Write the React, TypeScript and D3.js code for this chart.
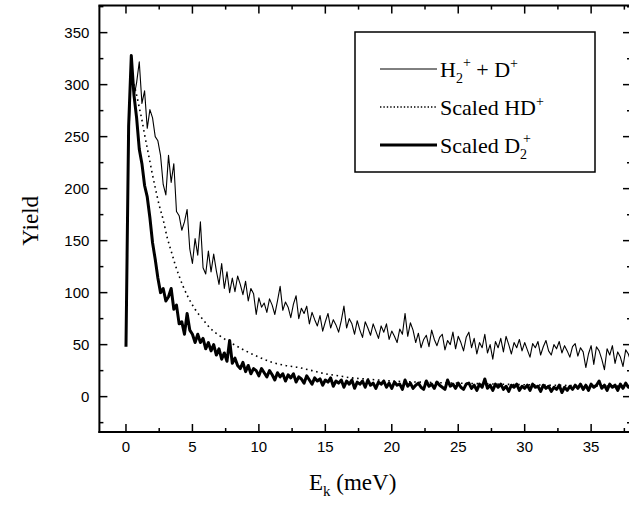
import React from "react";
import * as d3 from "d3";

// ---- data ----
const E_STEP = 0.2; // energy sampling step (meV) of the measured spectra
const h2dYield = [
  55, 240, 318, 288, 302, 322, 282, 294, 258, 276,
  268, 250, 246, 232, 204, 194, 232, 206, 224, 178,
  174, 160, 168, 180, 142, 128, 152, 136, 168, 124,
  118, 140, 120, 137, 121, 108, 128, 104, 120, 100,
  114, 101, 116, 108, 98, 111, 92, 104, 99, 79,
  95, 86, 90, 81, 94, 88, 79, 92, 106, 83,
  91, 86, 76, 89, 97, 75, 85, 80, 87, 70,
  81, 74, 68, 78, 63, 72, 80, 66, 74, 69,
  62, 73, 87, 66, 75, 70, 60, 73, 64, 57,
  72, 66, 59, 70, 63, 56, 68, 62, 70, 55,
  63, 58, 52, 65, 60, 80, 58, 71, 64, 52,
  61, 47, 55, 59, 48, 64, 55, 49, 57, 60,
  45, 54, 50, 62, 46, 58, 52, 44, 57, 62,
  47, 56, 41, 52, 47, 60, 42, 50, 36, 53,
  47, 56, 43, 58, 50, 41, 52, 47, 55, 44,
  52, 45, 38, 51, 47, 53, 40, 48, 54, 44,
  40, 50, 46, 53, 42, 49, 44, 38, 48, 51,
  39, 47, 43, 28, 41, 49, 31, 48, 44, 36,
  26, 46, 40, 49, 32, 43, 38, 29, 45, 41,
  33,
];
const d2Yield = [
  48, 260, 328, 290, 268, 238, 224, 203, 192, 172,
  148, 132, 114, 100, 104, 92, 96, 104, 84, 88,
  70, 72, 60, 80, 64, 60, 52, 60, 52, 56,
  46, 52, 44, 50, 40, 46, 36, 42, 34, 54,
  32, 37, 30, 27, 33, 24, 30, 22, 27, 25,
  20, 27, 23, 19, 25, 21, 16, 23, 19, 22,
  15, 21, 18, 22, 14, 19, 17, 13, 20, 16,
  12, 18, 15, 17, 11, 16, 14, 18, 10, 15,
  13, 16, 9, 15, 12, 16, 8, 14, 12, 15,
  9, 16, 11, 13, 8, 14, 12, 15, 9, 13,
  8, 14, 11, 12, 7, 16, 10, 13, 8, 11,
  13, 9, 7, 15, 10, 12, 8, 14, 11, 9,
  7, 16, 10, 12, 8, 13, 9, 7, 12, 13,
  8, 11, 6, 12, 9, 17, 8, 11, 6, 12,
  9, 12, 7, 10, 5, 11, 9, 12, 6, 10,
  8, 11, 6, 12, 9, 10, 5, 11, 8, 10,
  5, 9, 7, 11, 4, 9, 6, 10, 7, 11,
  8, 12, 7, 11, 6, 12, 9, 11, 15, 8,
  11, 6, 12, 9, 11, 6, 12, 8, 13, 9,
  11,
];
const hdEnergy = [0.45, 0.6, 0.8, 1.0, 1.2, 1.4, 1.6, 1.8, 2.0, 2.2, 2.5, 2.8, 3.1, 3.4, 3.7, 4.0, 4.3, 4.7, 5.2, 5.8, 6.4, 7.0, 8.0, 9.0, 10, 11, 12, 13, 14, 15, 16, 17, 18, 20, 22, 25, 28, 32, 38];
const hdYield = [305, 300, 290, 278, 266, 252, 239, 226, 213, 201, 184, 170, 153, 140, 127, 116, 106, 95, 84, 74, 65, 59, 51, 44, 38, 33, 30, 28, 25, 22, 20, 18, 17, 15, 14, 13, 12, 11, 10];

const xTicks = [0, 5, 10, 15, 20, 25, 30, 35];
const yTicks = [0, 50, 100, 150, 200, 250, 300, 350];
const legendLabels = ["H2+ + D+", "Scaled HD+", "Scaled D2+"];

const W = 629;
const H = 506;
const serif = "'Liberation Serif', 'DejaVu Serif', serif";
const sans = "'Liberation Sans', Arial, sans-serif";

export default function App() {
  const x = d3.scaleLinear().domain([-2, 38]).range([99.4, 631]);
  const y = d3.scaleLinear().domain([-34, 376]).range([432, 5.6]);
  const [x0, x1] = x.range();
  const [yb, yt] = y.range();

  const grid = (vals: number[]) => vals.map((v, i) => [i * E_STEP, v] as [number, number]);
  const line = d3
    .line<[number, number]>()
    .x((d) => x(d[0]))
    .y((d) => y(d[1]));
  const smooth = d3
    .line<[number, number]>()
    .x((d) => x(d[0]))
    .y((d) => y(d[1]))
    .curve(d3.curveMonotoneX);

  const hdPts = hdEnergy.map((e, i) => [e, hdYield[i]] as [number, number]);

  const xMinor = d3.range(-2.5, 38.1, 5).filter((v) => v > -2 && v < 38);
  const yMinor = d3.range(-25, 376, 50).filter((v) => v > -34 && v < 376);

  const majLen = 8;
  const minLen = 4;

  return (
    <svg
      width={W}
      height={H}
      style={{ position: "absolute", left: 0, top: 0, background: "#fff" }}
    >
      <defs>
        <clipPath id="plot">
          <rect x={x0} y={yt} width={x1 - x0} height={yb - yt} />
        </clipPath>
      </defs>
      <rect x={0} y={0} width={W} height={H} fill="#fff" />

      <g clipPath="url(#plot)" fill="none" stroke="#000" strokeLinejoin="round">
        <path d={line(grid(h2dYield)) || ""} strokeWidth={1.1} />
        <path d={smooth(hdPts) || ""} strokeWidth={1.6} strokeDasharray="1.6 3.6" />
        <path d={line(grid(d2Yield)) || ""} strokeWidth={3} />
      </g>

      {/* frame */}
      <g stroke="#000" fill="none">
        <line x1={x0} x2={x0} y1={yt} y2={yb + 1} strokeWidth={2} />
        <line x1={x0 - 1} x2={x1} y1={yb} y2={yb} strokeWidth={2} />
        <line x1={x0 - 1} x2={x1} y1={yt} y2={yt} strokeWidth={2} />
        <line x1={x1} x2={x1} y1={yt} y2={yb} strokeWidth={2} />
        {xTicks.map((t) => (
          <g key={"xt" + t} strokeWidth={1.5}>
            <line x1={x(t)} x2={x(t)} y1={yb} y2={yb - majLen} />
            <line x1={x(t)} x2={x(t)} y1={yt} y2={yt + majLen} />
          </g>
        ))}
        {xMinor.map((t) => (
          <g key={"xm" + t} strokeWidth={1.5}>
            <line x1={x(t)} x2={x(t)} y1={yb} y2={yb - minLen} />
            <line x1={x(t)} x2={x(t)} y1={yt} y2={yt + minLen} />
          </g>
        ))}
        {yTicks.map((t) => (
          <g key={"yt" + t} strokeWidth={1.5}>
            <line x1={x0} x2={x0 + majLen} y1={y(t)} y2={y(t)} />
            <line x1={x1} x2={x1 - majLen} y1={y(t)} y2={y(t)} />
          </g>
        ))}
        {yMinor.map((t) => (
          <g key={"ym" + t} strokeWidth={1.5}>
            <line x1={x0} x2={x0 + minLen} y1={y(t)} y2={y(t)} />
            <line x1={x1} x2={x1 - minLen} y1={y(t)} y2={y(t)} />
          </g>
        ))}
      </g>

      {/* tick labels */}
      <g fontFamily={sans} fontSize={15} fill="#000">
        {xTicks.map((t) => (
          <text key={"xl" + t} x={x(t)} y={yb + 20} textAnchor="middle">
            {t}
          </text>
        ))}
        {yTicks.map((t) => (
          <text key={"yl" + t} x={x0 - 10} y={y(t) + 5} textAnchor="end">
            {t}
          </text>
        ))}
      </g>

      {/* axis titles */}
      <text
        transform={`translate(38, ${(yt + yb) / 2 + 2}) rotate(-90)`}
        textAnchor="middle"
        fontFamily={serif}
        fontSize={23}
        fill="#000"
      >
        Yield
      </text>
      <text x={309} y={490} fontFamily={serif} fontSize={23} fill="#000">
        E
        <tspan dy={6} fontSize={15}>k</tspan>
        <tspan dy={-6}> (meV)</tspan>
      </text>

      {/* legend */}
      <g>
        <rect x={355} y={32} width={240} height={140} fill="#fff" stroke="#000" strokeWidth={1.5} />
        <line x1={380} x2={437} y1={69} y2={69} stroke="#000" strokeWidth={1} />
        <line x1={380} x2={437} y1={107} y2={107} stroke="#000" strokeWidth={1.4} strokeDasharray="1.4 2" />
        <line x1={380} x2={437} y1={145} y2={145} stroke="#000" strokeWidth={2.8} />
        <g fontFamily={serif} fontSize={22} fill="#000">
          <text x={440} y={77} aria-label={legendLabels[0]}>
            H
            <tspan dy={6} fontSize={14}>2</tspan>
            <tspan dy={-16} fontSize={14}>+</tspan>
            <tspan dy={10}> + D</tspan>
            <tspan dy={-9} fontSize={14}>+</tspan>
          </text>
          <text x={440} y={115} aria-label={legendLabels[1]}>
            Scaled HD
            <tspan dy={-9} fontSize={14}>+</tspan>
          </text>
          <text x={440} y={153} aria-label={legendLabels[2]}>
            Scaled D
            <tspan dy={6} fontSize={14}>2</tspan>
            <tspan dx={-4} dy={-16} fontSize={14}>+</tspan>
          </text>
        </g>
      </g>
    </svg>
  );
}
